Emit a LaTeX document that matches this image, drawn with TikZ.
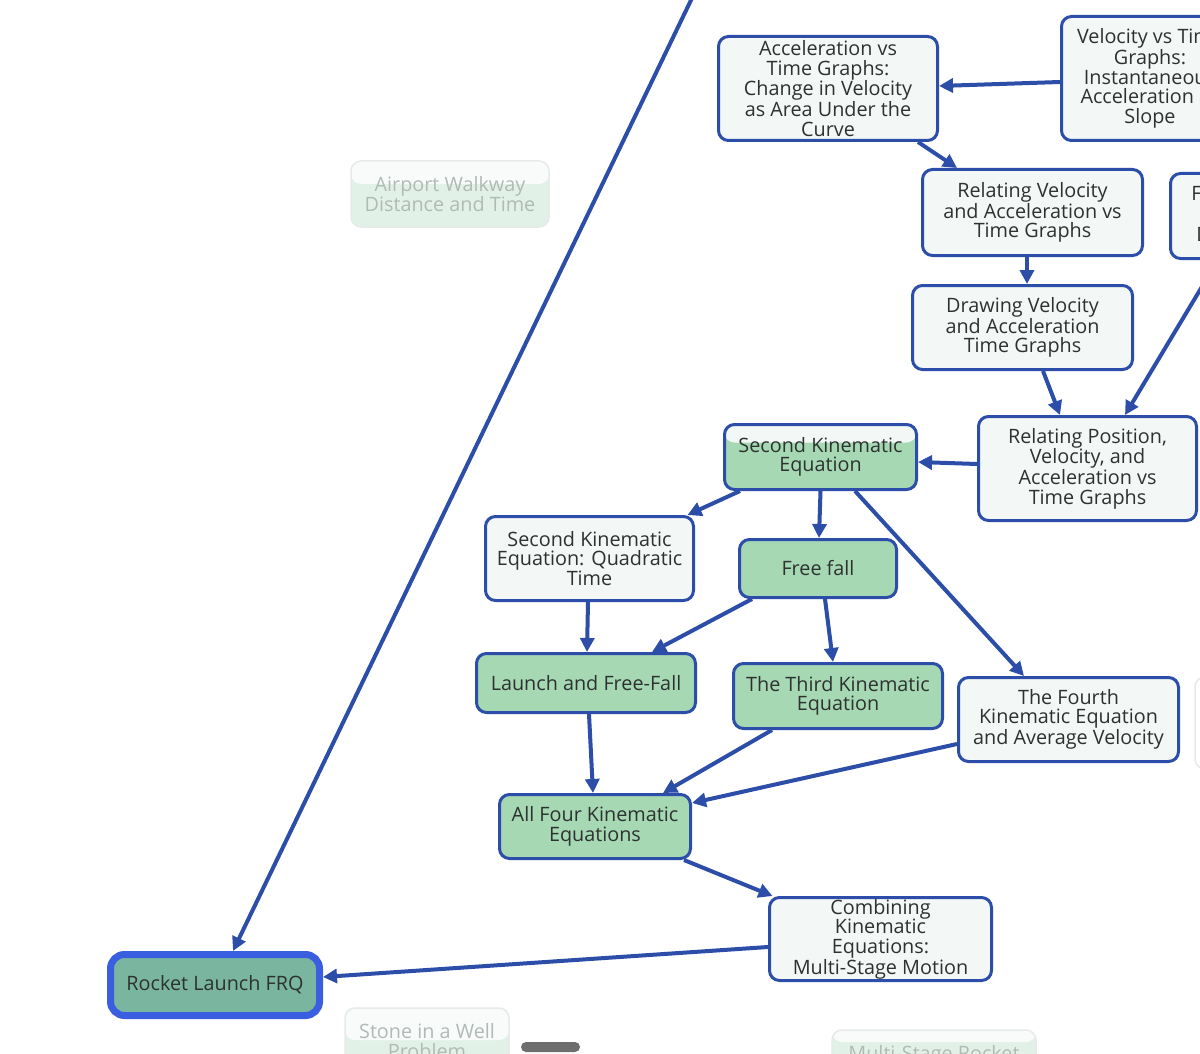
\documentclass[tikz,border=0pt]{standalone}
\usepackage{fontspec}
\setmainfont{Open Sans}
\usetikzlibrary{arrows.meta}
\definecolor{bord}{RGB}{44,78,168}
\definecolor{lightfill}{RGB}{243,248,246}
\definecolor{greenfill}{RGB}{166,216,180}
\definecolor{txt}{RGB}{45,50,48}
\definecolor{rocketfill}{RGB}{122,181,160}
\definecolor{rocketbord}{RGB}{58,94,224}
\definecolor{fadebord}{RGB}{230,235,233}
\definecolor{fadetop}{RGB}{248,251,249}
\definecolor{fadegreen}{RGB}{226,241,231}
\definecolor{fadetxt}{RGB}{176,186,182}
\definecolor{scrollc}{RGB}{110,110,110}
\tikzset{
  box/.style={draw=bord, line width=3pt, rounded corners=10pt, fill=lightfill,
    align=center, inner sep=0pt, text=txt, font=\fontsize{19.8}{19.5}\selectfont},
  gbox/.style={box, fill=greenfill},
  fbox/.style={draw=fadebord, line width=1.5pt, rounded corners=10pt, fill=fadegreen,
    align=center, inner sep=0pt, text=fadetxt, font=\fontsize{19.8}{19.5}\selectfont},
  edge/.style={draw=bord, line width=4pt, -{Triangle[length=14pt,width=14pt]}},
  toppart/.style 2 args={path picture={\fill[#1] (path picture bounding box.north west) rectangle ([yshift=-#2]path picture bounding box.north east);}}
}
\begin{document}
\begin{tikzpicture}[x=1pt,y=-1pt]
\useasboundingbox (0,0) rectangle (1200,1054);
\clip (0,0) rectangle (1200,1054);
\fill[white] (0,0) rectangle (1200,1054);

% faded nodes
\node[fbox, toppart={fadetop}{23pt}, minimum width=198pt, minimum height=66pt] (airport) at (450,194) {Airport Walkway\\Distance and Time};
\node[fbox, toppart={fadetop}{32pt}, minimum width=164pt, minimum height=66pt] (stone) at (427,1041) {Stone in a Well\\Problem};
\node[fbox, toppart={fadetop}{12pt}, minimum width=204pt, minimum height=66pt] (msr) at (934,1063) {Multi-Stage Rocket\\\phantom{x}};
\node[fbox, fill=white, minimum width=120pt, minimum height=92pt] (faint) at (1255,723) {};

% main nodes
\node[box, minimum width=219pt, minimum height=104pt] (acc) at (828,88.5) {Acceleration vs\\Time Graphs:\\Change in Velocity\\as Area Under the\\Curve};
\node[box, minimum width=177pt, minimum height=124pt] (vel) at (1150,78.5) {Velocity vs Time\\Graphs:\\Instantaneous\\Acceleration as\\Slope};
\node[box, minimum width=220pt, minimum height=86pt] (relva) at (1032.5,212.5) {Relating Velocity\\and Acceleration vs\\Time Graphs};
\node[box, minimum width=178pt, minimum height=85pt] (fi) at (1259.5,216) {First Kinematic\\Equation:\\Displacement};
\node[box, minimum width=220pt, minimum height=84pt] (drawva) at (1022.5,327.5) {Drawing Velocity\\and Acceleration\\Time Graphs};
\node[box, minimum width=218pt, minimum height=104pt] (relpva) at (1087.5,468.5) {Relating Position,\\Velocity, and\\Acceleration vs\\Time Graphs};
\node[gbox, toppart={lightfill}{18pt}, minimum width=192pt, minimum height=65pt] (secke) at (820.5,457) {Second Kinematic\\Equation};
\node[box, minimum width=208pt, minimum height=84pt] (seckeq) at (589.5,558.5) {Second Kinematic\\Equation: Quadratic\\Time};
\node[gbox, minimum width=157pt, minimum height=58pt] (ff) at (818,568.5) {Free fall};
\node[gbox, minimum width=219pt, minimum height=59pt] (launch) at (586,683) {Launch and Free-Fall};
\node[gbox, minimum width=209pt, minimum height=65pt] (third) at (838,696) {The Third Kinematic\\Equation};
\node[box, minimum width=220pt, minimum height=84pt] (fourth) at (1068.5,719.5) {The Fourth\\Kinematic Equation\\and Average Velocity};
\node[gbox, minimum width=191pt, minimum height=64pt] (all) at (595,826.5) {All Four Kinematic\\Equations};
\node[box, minimum width=222pt, minimum height=83pt] (comb) at (880.5,939) {Combining\\Kinematic\\Equations:\\Multi-Stage Motion};
\node[box, draw=rocketbord, fill=rocketfill, line width=7pt, rounded corners=14pt, minimum width=209pt, minimum height=61pt] (rocket) at (215,985) {Rocket Launch FRQ};

\coordinate (topsrc) at (693,-4);

% edges
\draw[edge] (topsrc) -- ([xshift=18pt]rocket.north);
\draw[edge] ([yshift=-3.5pt]vel.west) -- ([yshift=2.5pt]acc.east);
\draw[edge] ([xshift=90pt]acc.south) -- ([xshift=-75.5pt]relva.north);
\draw[edge] ([xshift=-5.5pt]relva.south) -- ([xshift=4.5pt]drawva.north);
\draw[edge] ([xshift=20.5pt]drawva.south) -- ([xshift=-27.5pt]relpva.north);
\draw[edge] ([xshift=-41.5pt]fi.south) -- ([xshift=37.5pt]relpva.north);
\draw[edge] ([yshift=4.5pt]relpva.west) -- ([yshift=-5pt]secke.east);
\draw[edge] ([xshift=-80.5pt]secke.south) -- ([xshift=98pt]seckeq.north);
\draw[edge] (secke.south) -- ([xshift=1pt]ff.north);
\draw[edge] ([xshift=34.5pt]secke.south) -- ([xshift=-44.5pt]fourth.north);
\draw[edge] ([xshift=-1.5pt]seckeq.south) -- ([xshift=1pt]launch.north);
\draw[edge] ([xshift=-66pt]ff.south) -- ([xshift=66pt]launch.north);
\draw[edge] ([xshift=7pt]ff.south) -- ([xshift=-5pt]third.north);
\draw[edge] ([xshift=3pt]launch.south) -- ([xshift=-2pt]all.north);
\draw[edge] ([xshift=-66pt]third.south) -- ([xshift=68pt]all.north);
\draw[edge] ([yshift=-24.5pt]fourth.west) -- ([yshift=23.5pt]all.east);
\draw[edge] ([xshift=89pt]all.south) -- ([xshift=-108pt]comb.north);
\draw[edge] ([yshift=-8pt]comb.west) -- ([yshift=8pt]rocket.east);

% scroll indicator
\fill[scrollc, rounded corners=5pt] (521,1042) rectangle (580,1052);
\end{tikzpicture}
\end{document}
